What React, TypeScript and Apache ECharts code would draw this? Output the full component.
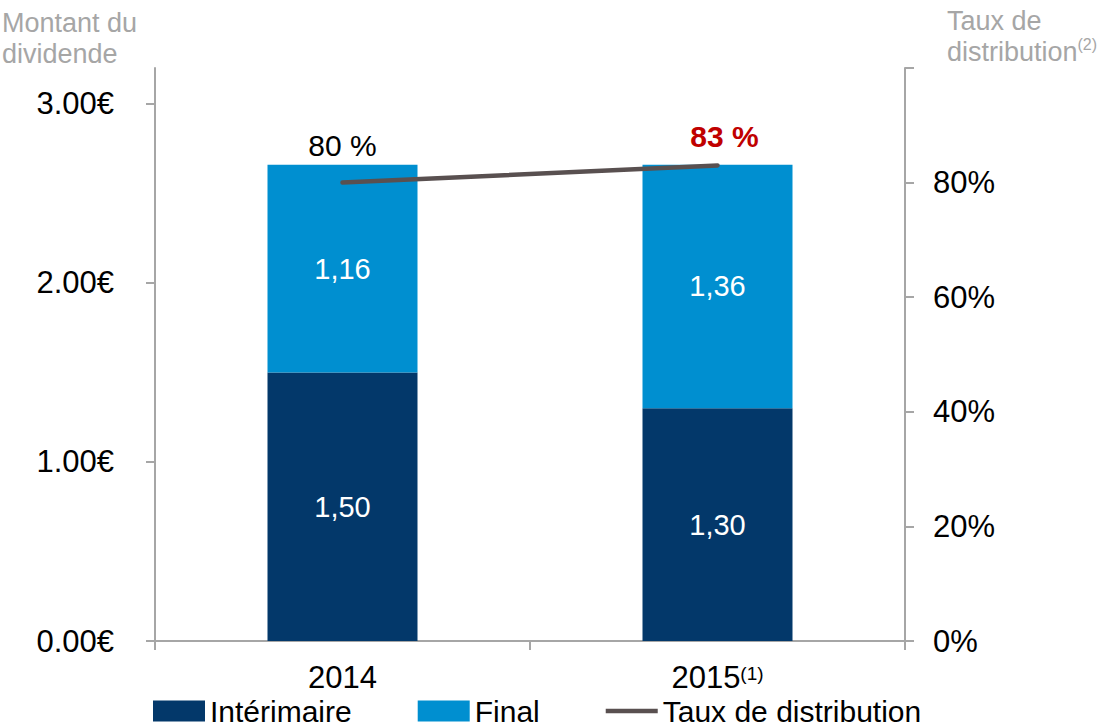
import React, { useEffect, useRef } from "react";
import * as echarts from "echarts";

const categories = ["2014", "2015"];
const interimValues = [1.5, 1.3];
const finalValues = [1.16, 1.36];
const payoutRatio = [80, 83];
const leftTicks = [0, 1, 2, 3];

const FONT = "'Liberation Sans', Arial, sans-serif";
const NAVY = "#03386A";
const BLUE = "#008FD0";
const LINE = "#595050";
const AXIS = "#A6A6A6";

export default function App() {
  const ref = useRef<HTMLDivElement>(null);
  useEffect(() => {
    document.body.style.margin = "0";
    const chart = echarts.init(ref.current!, undefined, { renderer: "svg" });
    const fmtComma = (v: number) => v.toFixed(2).replace(".", ",");
    chart.setOption({
      animation: false,
      textStyle: { fontFamily: FONT },
      grid: { left: 155, right: 194, top: 68, bottom: 87 },
      legend: {
        left: 148,
        top: 691,
        itemWidth: 52,
        itemHeight: 21,
        itemGap: 66,
        textStyle: { fontSize: 30, lineHeight: 30, color: "#000", fontFamily: FONT },
        data: [
          { name: "Intérimaire", icon: "rect" },
          { name: "Final", icon: "rect" },
          { name: "Taux de distribution", icon: "path://M0,0 H52 V4.5 H0 Z" },
        ],
      },
      graphic: [
        {
          type: "text",
          left: 2,
          top: 7,
          style: {
            text: "Montant du\ndividende",
            font: `27px ${FONT}`,
            fill: AXIS,
            lineHeight: 31,
          },
        },
        {
          type: "text",
          right: 2,
          top: 7,
          style: {
            text: "{m|Taux de}\n{m|distribution}{s|(2)}",
            align: "right",
            fill: AXIS,
            rich: {
              m: { fontSize: 27, fontFamily: FONT, color: AXIS, lineHeight: 31 },
              s: { fontSize: 16, fontFamily: FONT, color: AXIS, lineHeight: 31, verticalAlign: "top" },
            },
          },
        },
      ],
      xAxis: {
        type: "category",
        data: categories,
        axisLine: { lineStyle: { color: AXIS, width: 2 } },
        axisTick: { show: true, length: 9, lineStyle: { color: AXIS, width: 2 } },
        axisLabel: {
          margin: 23,
          color: "#000",
          fontSize: 31,
          fontFamily: FONT,
          formatter: (v: string) => (v === "2015" ? `{m|${v}}{s|(1)}` : `{m|${v}}`),
          rich: {
            m: { fontSize: 31, fontFamily: FONT, color: "#000", lineHeight: 26 },
            s: { fontSize: 19, fontFamily: FONT, color: "#000", lineHeight: 12, verticalAlign: "top" },
          },
        },
      },
      yAxis: [
        {
          type: "value",
          min: 0,
          max: 3.2,
          position: "left",
          splitLine: { show: false },
          axisLine: { show: true, lineStyle: { color: AXIS, width: 2 } },
          axisTick: { show: true, length: 9, inside: false, customValues: leftTicks, lineStyle: { color: AXIS, width: 2 } },
          axisLabel: {
            customValues: leftTicks,
            margin: 41,
            color: "#000",
            fontSize: 31,
            fontFamily: FONT,
            formatter: (v: number) => v.toFixed(2) + "€",
          },
        },
        {
          type: "value",
          min: 0,
          max: 100,
          interval: 20,
          position: "right",
          splitLine: { show: false },
          axisLine: { show: true, lineStyle: { color: AXIS, width: 2 } },
          axisTick: { show: true, length: 9, lineStyle: { color: AXIS, width: 2 } },
          axisLabel: {
            margin: 28,
            color: "#000",
            fontSize: 31,
            fontFamily: FONT,
            formatter: (v: number) => (v === 100 ? "" : v + "%"),
          },
        },
      ],
      series: [
        {
          name: "Intérimaire",
          type: "bar",
          stack: "div",
          barWidth: 150,
          itemStyle: { color: NAVY },
          data: interimValues,
          label: {
            show: true,
            position: "inside",
            color: "#fff",
            fontSize: 29,
            fontFamily: FONT,
            formatter: (p: any) => fmtComma(p.value),
          },
        },
        {
          name: "Final",
          type: "bar",
          stack: "div",
          barWidth: 150,
          itemStyle: { color: BLUE },
          data: finalValues,
          label: {
            show: true,
            position: "inside",
            color: "#fff",
            fontSize: 29,
            fontFamily: FONT,
            formatter: (p: any) => fmtComma(p.value),
          },
        },
        {
          name: "Taux de distribution",
          type: "line",
          yAxisIndex: 1,
          symbol: "circle",
          symbolSize: 0.01,
          showSymbol: true,
          lineStyle: { color: LINE, width: 4.5, cap: "round" },
          itemStyle: { color: LINE },
          data: [
            {
              value: payoutRatio[0],
              label: {
                show: true,
                position: "top",
                distance: 22,
                color: "#000",
                fontSize: 30,
                fontFamily: FONT,
                formatter: (p: any) => `${p.value} %`,
              },
            },
            {
              value: payoutRatio[1],
              label: {
                show: true,
                position: "top",
                distance: 14,
                offset: [7, 0],
                color: "#C00000",
                fontWeight: "bold",
                fontSize: 30,
                fontFamily: FONT,
                formatter: (p: any) => `${p.value} %`,
              },
            },
          ],
        },
      ],
    });
    return () => chart.dispose();
  }, []);
  return <div ref={ref} style={{ width: 1099, height: 728 }} />;
}
